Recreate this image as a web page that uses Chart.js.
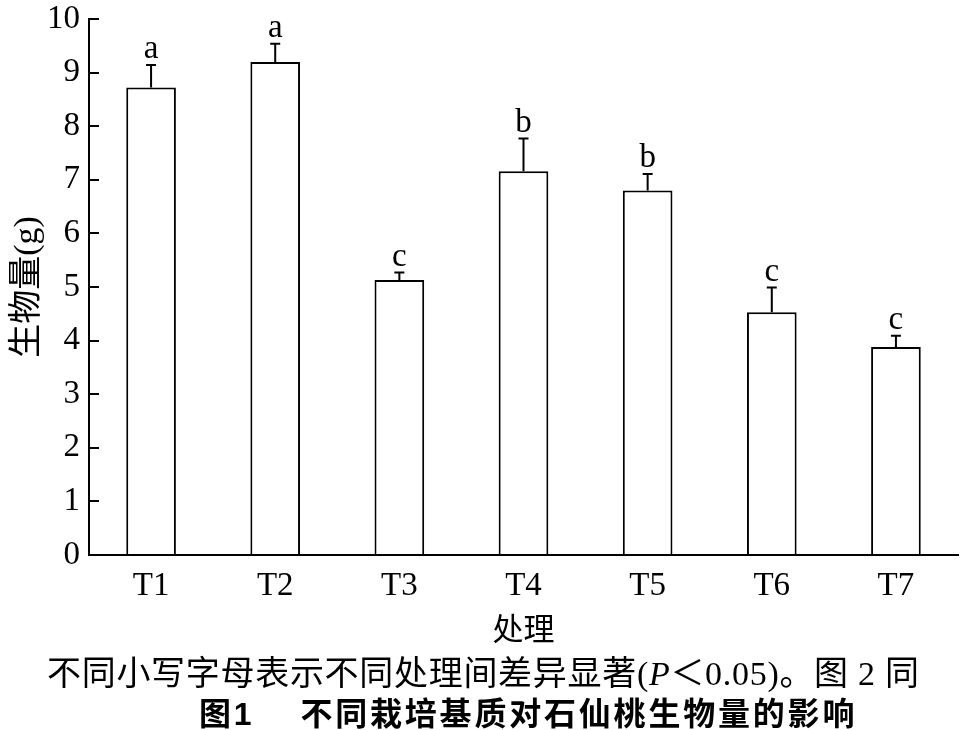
<!DOCTYPE html>
<html>
<head>
<meta charset="utf-8">
<script src="https://cdn.jsdelivr.net/npm/chart.js@4"></script>
<style>
    body { margin: 0; background: #fff; }
    #wrap { position: relative; width: 968px; height: 730px; }
    #chart { position: absolute; left: 0; top: 0; }
    .note {
        position: absolute; white-space: nowrap; color: #000;
        font-family: "Liberation Serif", "Noto Sans CJK SC", serif;
    }
    #note1 { left: 47px; top: 646px; font-size: 34px; letter-spacing: 0.7px; }
    #note2 { left: 199px; top: 688px; font-size: 32px; font-weight: bold; letter-spacing: 2.8px;
             font-family: "Liberation Sans", "Noto Sans CJK SC", sans-serif; }
    .gap { display: inline-block; width: 46px; }
</style>
</head>
<body>
<div id="wrap">
    <canvas id="chart" width="968" height="650"></canvas>
    <div class="note" id="note1">不同小写字母表示不同处理间差异显著(<i>P</i>＜0.05)。图 2 同</div>
    <div class="note" id="note2">图1<span class="gap"></span>不同栽培基质对石仙桃生物量的影响</div>
</div>
<script>
// Data
const treatments = ["T1", "T2", "T3", "T4", "T5", "T6", "T7"];
const biomass = [8.72, 9.20, 5.13, 7.16, 6.80, 4.53, 3.88];
const biomassSd = [0.42, 0.34, 0.14, 0.61, 0.31, 0.46, 0.21];
const sigLetters = ["a", "a", "c", "b", "b", "c", "c"];
const yTicks = [0, 1, 2, 3, 4, 5, 6, 7, 8, 9, 10];

const serif = "'Liberation Serif', 'Noto Sans CJK SC', serif";

// Error bars + significance letters
const errorBarPlugin = {
    id: 'errorBars',
    afterDatasetsDraw(chart) {
        const ctx = chart.ctx;
        const meta = chart.getDatasetMeta(0);
        const yScale = chart.scales.y;
        ctx.save();
        ctx.strokeStyle = '#000';
        ctx.lineWidth = 2;
        ctx.fillStyle = '#000';
        ctx.font = `33px ${serif}`;
        ctx.textAlign = 'center';
        ctx.textBaseline = 'alphabetic';
        meta.data.forEach((bar, i) => {
            const yBar = yScale.getPixelForValue(biomass[i]);
            const yTop = yScale.getPixelForValue(biomass[i] + biomassSd[i]);
            ctx.beginPath();
            ctx.moveTo(bar.x, yBar);
            ctx.lineTo(bar.x, yTop);
            ctx.moveTo(bar.x - 5, yTop);
            ctx.lineTo(bar.x + 5, yTop);
            ctx.stroke();
            ctx.fillText(sigLetters[i], bar.x, yTop - 7);
        });
        ctx.restore();
    }
};

new Chart(document.getElementById('chart'), {
    type: 'bar',
    data: {
        labels: treatments,
        datasets: [{
            data: biomass,
            backgroundColor: '#fff',
            borderColor: '#000',
            borderWidth: 2,
            borderSkipped: 'bottom',
            barPercentage: 0.4,
            categoryPercentage: 1.0
        }]
    },
    options: {
        responsive: false,
        animation: false,
        layout: { padding: { top: 0, right: 10, left: 0, bottom: 0 } },
        plugins: {
            legend: { display: false },
            tooltip: { enabled: false }
        },
        scales: {
            x: {
                grid: { display: false },
                border: { display: true, color: '#000', width: 2 },
                ticks: { color: '#000', font: { family: serif, size: 33 }, padding: 4 },
                title: {
                    display: true, text: '处理', color: '#000',
                    font: { family: serif, size: 31 }, padding: { top: 2, bottom: 0 }
                },
                afterFit: (s) => { s.height = 95; }
            },
            y: {
                min: 0, max: 10,
                afterBuildTicks: (s) => { s.ticks = yTicks.map(v => ({ value: v })); },
                grid: { drawOnChartArea: false, drawTicks: true, tickLength: -10, color: '#000', lineWidth: 2 },
                border: { display: true, color: '#000', width: 2 },
                ticks: { color: '#000', font: { family: serif, size: 33 }, padding: 19 },
                title: {
                    display: true, text: '生物量(g)', color: '#000',
                    font: { family: serif, size: 34 }, padding: { top: 8, bottom: 0 }
                },
                afterFit: (s) => { s.width = 89; s.paddingTop = 19; s.paddingBottom = 0; }
            }
        }
    },
    plugins: [errorBarPlugin]
});
</script>
</body>
</html>
